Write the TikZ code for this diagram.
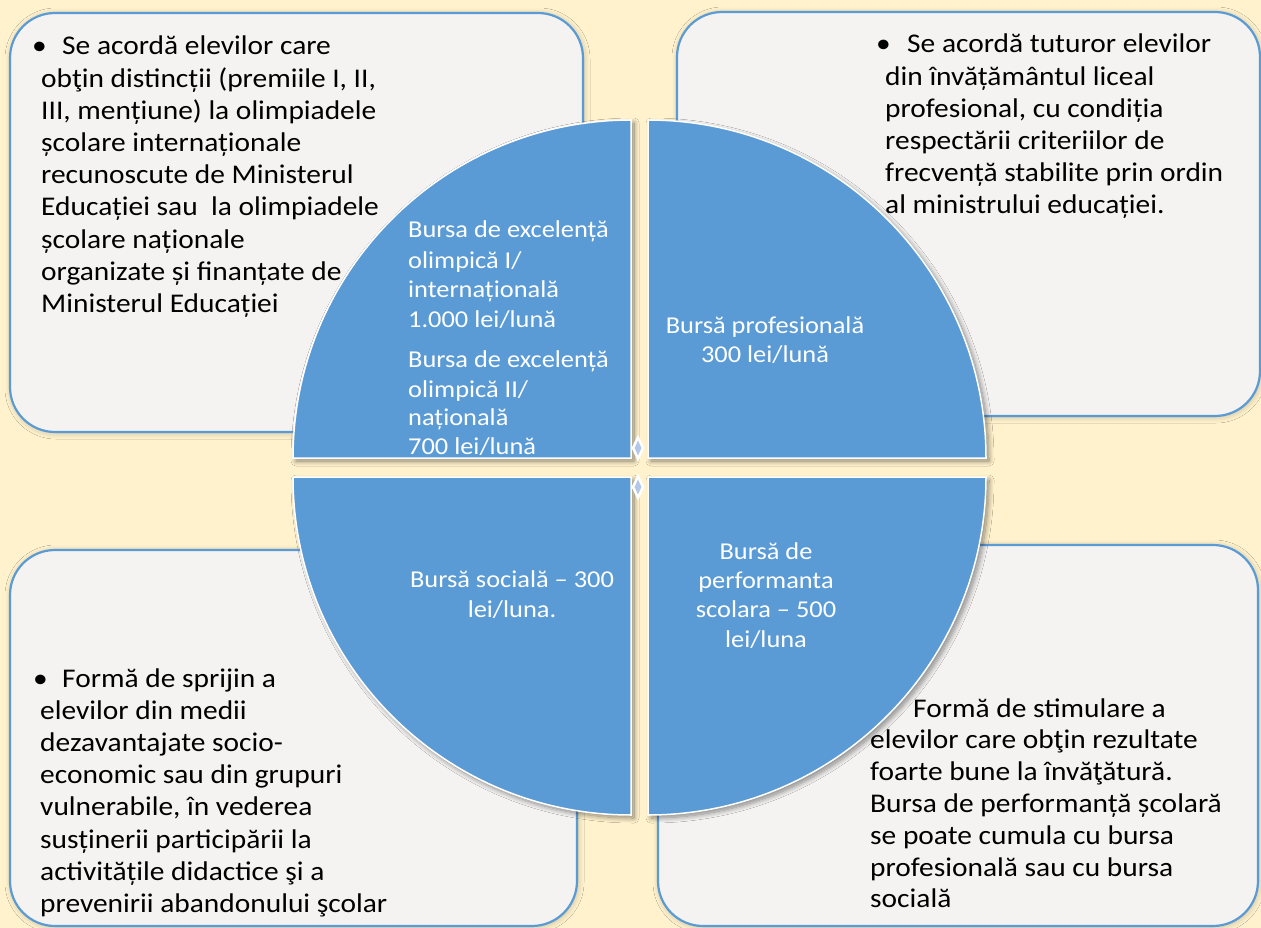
\documentclass[tikz,border=0pt]{standalone}
\usepackage{fontspec}
\setmainfont{Carlito}
\newfontfamily\wfont[FakeStretch=1.09]{Carlito}
\usetikzlibrary{shadows.blur,shapes.geometric}
\definecolor{bg}{HTML}{FFF2CC}
\definecolor{qblue}{HTML}{5B9BD5}
\definecolor{boxfill}{HTML}{F4F3F1}
\definecolor{dmd}{HTML}{B4C7E7}
\begin{document}
\begin{tikzpicture}[x=1pt,y=-1pt,
  infobox/.style={draw=qblue, line width=2.2pt, fill=boxfill, rounded corners=45pt, inner sep=0pt,
    blur shadow={shadow xshift=1pt, shadow yshift=-1pt, shadow blur radius=6pt, shadow blur steps=12, shadow opacity=22}},
  quad/.style={fill=qblue, draw=white, line width=1.5pt,
    blur shadow={shadow xshift=3pt, shadow yshift=-3pt, shadow blur radius=5pt, shadow blur steps=12, shadow opacity=45}},
  btext/.style={anchor=base west, inner sep=0pt, font=\wfont\fontsize{27}{32}\selectfont, text=black},
  qtext/.style={inner sep=0pt, font=\wfont\fontsize{24.2}{29}\selectfont, text=white},
  qleft/.style={qtext, anchor=base west},
  qmid/.style={qtext, anchor=base},
  dmdout/.style={diamond, fill=white, inner sep=0pt, minimum width=13pt, minimum height=27pt},
  dmdin/.style={diamond, fill=dmd, inner sep=0pt, minimum width=7pt, minimum height=15pt},
]
\fill[bg] (0,0) rectangle (1261,928);
\useasboundingbox (0,0) rectangle (1261,928);

% boxes
\node[infobox, minimum width=573pt, minimum height=419pt] (boxTL) at (296.5,222.5) {};
\node[infobox, minimum width=583pt, minimum height=404pt] (boxTR) at (968.5,214) {};
\node[infobox, minimum width=567pt, minimum height=376pt] (boxBL) at (293.5,738) {};
\node[infobox, minimum width=600pt, minimum height=381pt] (boxBR) at (958,735.5) {};

% quadrants
\path[quad] (631,458) -- (293,458) arc[start angle=180, end angle=270, radius=338] -- cycle;
\path[quad] (648,458) -- (648,120) arc[start angle=270, end angle=360, radius=338] -- cycle;
\path[quad] (648,477) -- (986,477) arc[start angle=0, end angle=90, radius=338] -- cycle;
\path[quad] (631,477) -- (631,815) arc[start angle=90, end angle=180, radius=338] -- cycle;

% diamonds
\node[dmdout] (d1) at (638,448) {};
\node[dmdin] (d1i) at (d1) {};
\node[dmdout] (d2) at (638,487) {};
\node[dmdin] (d2i) at (d2) {};

% quadrant texts
\begin{scope}
\clip (631,458) -- (293,458) arc[start angle=180, end angle=270, radius=338] -- cycle;
\foreach \t/\yy [count=\i] in {{Bursa de excelență}/238,{olimpică I/}/268,{internațională}/297,{1.000 lei/lună}/327,{Bursa de excelență}/367,{olimpică II/}/397,{națională}/425,{700 lei/lună}/454}
  \node[qleft] (qa\i) at (408,\yy) {\t};
\end{scope}
\node[qmid] (qb1) at (765,333) {Bursă profesională};
\node[qmid] (qb2) at (765,362) {300 lei/lună};
\node[qmid] (qc1) at (512,587) {Bursă socială – 300};
\node[qmid] (qc2) at (512,617) {lei/luna.};
\node[qmid] (qd1) at (766,559) {Bursă de};
\node[qmid] (qd2) at (766,588) {performanta};
\node[qmid] (qd3) at (766,617) {scolara – 500};
\node[qmid] (qd4) at (766,647) {lei/luna};

% box texts
\node[btext] (tlb) at (32,55) {•};
\node[btext] (tl0) at (62,55) {Se acordă elevilor care};
\foreach \t [count=\i] in {{obţin distincții (premiile I, II,},{III, mențiune) la olimpiadele},{școlare internaționale},{recunoscute de Ministerul},{Educației sau\ \ la olimpiadele},{școlare naționale},{organizate și finanțate de},{Ministerul Educației}}
  \node[btext] (tl\i) at (41,{55+32.2*\i}) {\t};

\node[btext] (trb) at (876,53) {•};
\node[btext] (tr0) at (907,53) {Se acordă tuturor elevilor};
\foreach \t [count=\i] in {{din învățământul liceal},{profesional, cu condiția},{respectării criteriilor de},{frecvență stabilite prin ordin},{al ministrului educației.}}
  \node[btext] (tr\i) at (885,{53+32.2*\i}) {\t};

\node[btext] (blb) at (33,687) {•};
\node[btext] (bl0) at (62,687) {Formă de sprijin a};
\foreach \t [count=\i] in {{elevilor din medii},{dezavantajate socio-},{economic sau din grupuri},{vulnerabile, în vederea},{susținerii participării la},{activitățile didactice şi a},{prevenirii abandonului şcolar}}
  \node[btext] (bl\i) at (40,{687+32.2*\i}) {\t};

\node[btext] (br0) at (913,717) {Formă de stimulare a};
\foreach \t [count=\i] in {{elevilor care obţin rezultate},{foarte bune la învăţătură.},{Bursa de performanță școlară},{se poate cumula cu bursa},{profesională sau cu bursa},{socială}}
  \node[btext] (br\i) at (870,{717+31.8*\i}) {\t};
\end{tikzpicture}
\end{document}
